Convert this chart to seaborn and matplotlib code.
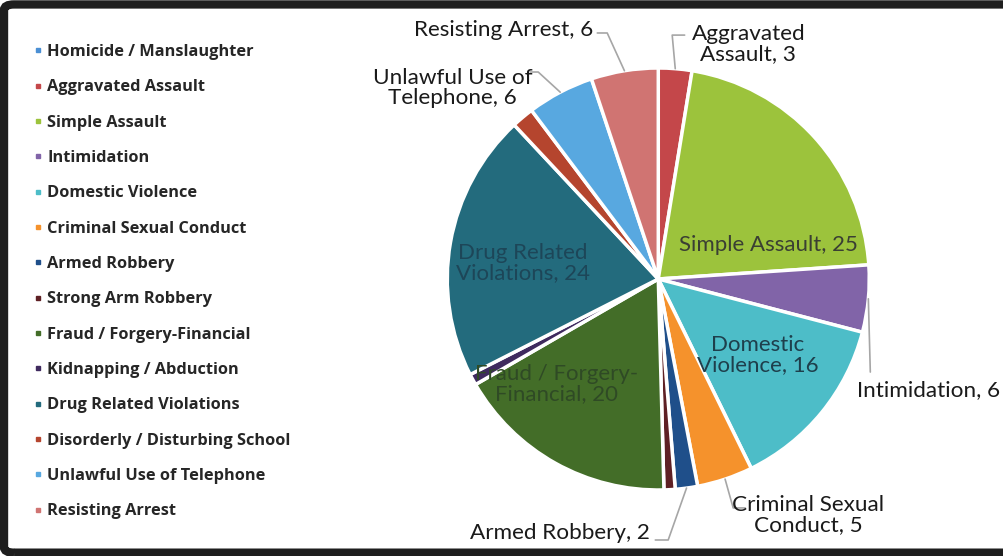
import numpy as np
import matplotlib
matplotlib.use("Agg")
import matplotlib.pyplot as plt
from matplotlib.lines import Line2D
from matplotlib.patches import FancyBboxPatch
import seaborn as sns

categories = ["Homicide / Manslaughter", "Aggravated Assault", "Simple Assault",
              "Intimidation", "Domestic Violence", "Criminal Sexual Conduct",
              "Armed Robbery", "Strong Arm Robbery", "Fraud / Forgery-Financial",
              "Kidnapping / Abduction", "Drug Related Violations",
              "Disorderly / Disturbing School", "Unlawful Use of Telephone",
              "Resisting Arrest"]
counts = [0, 3, 25, 6, 16, 5, 2, 1, 20, 1, 24, 2, 6, 6]
colors = ["#4a8fd4", "#c4474a", "#9cc33c", "#8164a8", "#4dbdc8", "#f5922c",
          "#1f4f8a", "#5e2024", "#436d28", "#3f2a5e", "#236b7d", "#b5452e",
          "#58a8e0", "#d07472"]

# labels shown on the pie
inside_labels = {2: "Simple Assault, 25", 4: "Domestic\nViolence, 16",
                 10: "Drug Related\nViolations, 24", 8: "Fraud / Forgery-\nFinancial, 20"}
outside_labels = {1: "Aggravated\nAssault, 3", 3: "Intimidation, 6",
                  5: "Criminal Sexual\nConduct, 5", 6: "Armed Robbery, 2",
                  12: "Unlawful Use of\nTelephone, 6", 13: "Resisting Arrest, 6"}

sns.set_theme(style="white")
plt.rcParams["font.family"] = ["Lato", "DejaVu Sans"]

fig = plt.figure(figsize=(10.04, 5.56), dpi=100)
ax = fig.add_axes([0.4455, 0.1187, 0.4203, 0.759])
wedges, _ = ax.pie(counts, colors=colors, startangle=90, counterclock=False,
                   wedgeprops=dict(edgecolor="white", linewidth=2.5))
ax.set_xlim(-1, 1)
ax.set_ylim(-1, 1)
ax.set_aspect("equal")
ax.axis("off")

# inside labels
inside_pos = {2: (0.52, 0.16), 4: (0.47, -0.36), 10: (-0.64, 0.076), 8: (-0.48, -0.50)}
inside_col = {2: "#3a3f33", 4: "#1e3f4c", 10: "#1d4658", 8: "#2f4a25"}
for i, txt in inside_labels.items():
    ax.text(*inside_pos[i], txt, ha="center", va="center", fontsize=16,
            color=inside_col[i], linespacing=1.0)

# outside labels with leader lines
total = sum(counts)
cum = np.cumsum([0] + counts)
elbow = {1: [(0.066, 1.156), (0.125, 1.156)],
         3: [(1.005, -0.441)],
         5: [(0.355, -1.085), (0.412, -1.085)],
         6: [(0.047, -1.237), (-0.014, -1.237)],
         12: [(-0.569, 0.981), (-0.607, 0.981)],
         13: [(-0.242, 1.166), (-0.289, 1.166)]}
text_pos = {1: ((0.427, 1.115), "center"), 3: ((0.943, -0.526), "left"),
            5: ((0.711, -1.118), "center"), 6: ((-0.038, -1.204), "right"),
            12: ((-0.976, 0.905), "center"), 13: ((-0.308, 1.18), "right")}
for i, txt in outside_labels.items():
    mid = (cum[i] + cum[i + 1]) / 2 / total * 2 * np.pi
    start = (np.sin(mid), np.cos(mid))
    pts = [start] + elbow[i]
    ax.plot([p[0] for p in pts], [p[1] for p in pts], color="#a6a6a6",
            lw=1.2, clip_on=False)
    (tx, ty), ha = text_pos[i]
    ax.text(tx, ty, txt, ha=ha, va="center", fontsize=16.2, color="#1a1a1a",
            linespacing=1.0, multialignment="center")

# legend
handles = [Line2D([], [], marker="s", linestyle="none", markersize=3.5,
                  markerfacecolor=c, markeredgecolor=c) for c in colors]
fig.legend(handles, categories, loc="upper left", bbox_to_anchor=(0.035, 0.921),
           frameon=False, handlelength=0.3, handletextpad=0.45, labelspacing=1.18,
           borderaxespad=0, borderpad=0,
           prop={"family": "Open Sans", "weight": "bold", "size": 11.8})

# dark frame around the scanned chart
frame = FancyBboxPatch((0.004, 0.006), 1.2, 0.986, boxstyle="round,pad=0,rounding_size=0.01",
                       transform=fig.transFigure, facecolor="none",
                       edgecolor="#1e1e1e", linewidth=6, clip_on=False)
fig.patches.append(frame)

fig.savefig("out.png", dpi=100)
